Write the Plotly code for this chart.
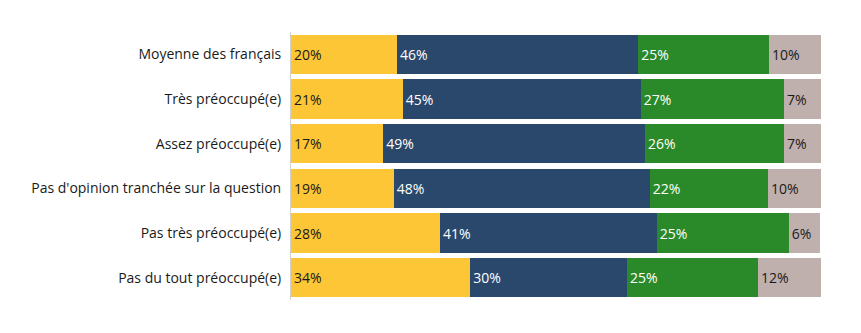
import plotly.graph_objects as go

categories = [
    "Moyenne des français",
    "Très préoccupé(e)",
    "Assez préoccupé(e)",
    "Pas d'opinion tranchée sur la question",
    "Pas très préoccupé(e)",
    "Pas du tout préoccupé(e)",
]
s1 = [20.0, 21.1, 17.4, 19.4, 28.1, 33.8]
s2 = [45.5, 44.9, 49.4, 48.3, 40.9, 29.6]
s3 = [24.7, 27.0, 26.2, 22.3, 24.9, 24.7]
s4 = [9.8, 7.0, 7.0, 10.0, 6.0, 11.9]

series = [
    ("s1", s1, "#FCC636", "#1a1a1a"),
    ("s2", s2, "#2A486C", "#ffffff"),
    ("s3", s3, "#2A8A2A", "#ffffff"),
    ("s4", s4, "#BFB0AE", "#1a1a1a"),
]

fig = go.Figure()
for name, vals, color, tcolor in series:
    fig.add_trace(go.Bar(
        y=categories, x=vals, name=name, orientation="h",
        marker=dict(color=color, line=dict(width=0)),
        texttemplate="%{x:.0f}%", textposition="inside",
        insidetextanchor="start",
        textfont=dict(color=tcolor, size=14, family="Open Sans"),
        constraintext="none",
        hoverinfo="skip",
    ))

fig.update_layout(
    barmode="stack",
    bargap=0.12,
    width=861, height=333,
    margin=dict(l=291, r=40, t=32, b=33),
    paper_bgcolor="white", plot_bgcolor="white",
    showlegend=False,
    font=dict(family="Open Sans", size=14, color="#1a1a1a"),
    uniformtext=dict(minsize=14, mode="show"),
    xaxis=dict(range=[0, 100], visible=False, fixedrange=True),
    yaxis=dict(
        autorange="reversed", showline=True, linecolor="#d0d0d0", linewidth=1,
        ticks="outside", ticklen=6, tickcolor="rgba(0,0,0,0)",
        showgrid=False, zeroline=False,
        tickfont=dict(size=14, color="#1a1a1a", family="Open Sans"),
    ),
)

fig.write_html("out.html")
